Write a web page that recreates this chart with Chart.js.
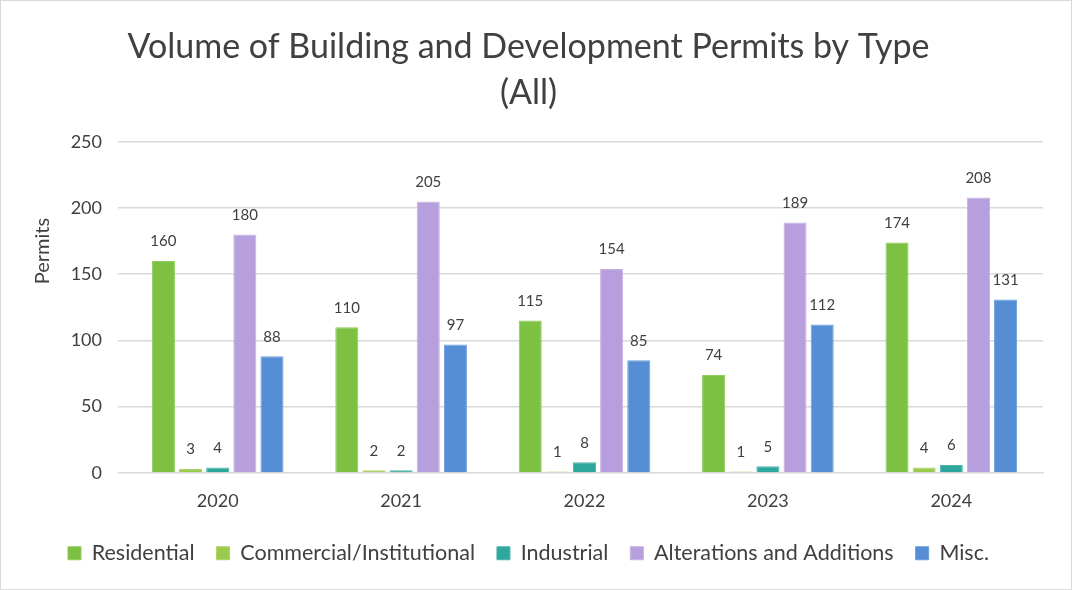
<!DOCTYPE html>
<html>
<head>
<meta charset="utf-8">
<script src="https://cdn.jsdelivr.net/npm/chart.js@4"></script>
<style>
  html, body { margin: 0; padding: 0; background: #ffffff; }
  #wrap { position: relative; width: 1070px; height: 588px; border: 1px solid #d9d9d9; }
</style>
</head>
<body>
<div id="wrap"><canvas id="permitChart"></canvas></div>
<script>
// Permits by year and type
const years = ['2020', '2021', '2022', '2023', '2024'];
const residential = [160, 110, 115, 74, 174];
const commercial = [3, 2, 1, 1, 4];
const industrial = [4, 2, 8, 5, 6];
const alterations = [180, 205, 154, 189, 208];
const misc = [88, 97, 85, 112, 131];
const yTicks = [0, 50, 100, 150, 200, 250];

const textColor = '#404040';
const fontFamily = 'Lato, "Open Sans", sans-serif';

// Draw the value above each bar, plus the y axis title (Excel puts it off-centre)
const valueLabels = {
    id: 'valueLabels',
    afterDatasetsDraw(chart) {
        const ctx = chart.ctx;
        ctx.save();
        ctx.fillStyle = textColor;
        ctx.font = '15px ' + fontFamily;
        ctx.textAlign = 'center';
        ctx.textBaseline = 'bottom';
        chart.data.datasets.forEach((ds, i) => {
            chart.getDatasetMeta(i).data.forEach((bar, j) => {
                ctx.fillText(ds.data[j], bar.x, bar.y - 12);
            });
        });
        ctx.font = '20px ' + fontFamily;
        ctx.textBaseline = 'middle';
        ctx.translate(42, 250);
        ctx.rotate(-Math.PI / 2);
        ctx.fillText('Permits', 0, 0);
        ctx.restore();
    }
};

const ctx = document.getElementById('permitChart').getContext('2d');
const permitChart = new Chart(ctx, {
    type: 'bar',
    data: {
        labels: years,
        datasets: [
            { label: 'Residential', data: residential, backgroundColor: '#7dc142', borderColor: '#8fcc5a' },
            { label: 'Commercial/Institutional', data: commercial, backgroundColor: '#9bcb4c', borderColor: '#acd466' },
            { label: 'Industrial', data: industrial, backgroundColor: '#2ea89c', borderColor: '#4bb5aa' },
            { label: 'Alterations and Additions', data: alterations, backgroundColor: '#b69fdc', borderColor: '#c5b2e3' },
            { label: 'Misc.', data: misc, backgroundColor: '#558ed5', borderColor: '#6a9cdb' }
        ].map(d => Object.assign(d, { borderWidth: 1, barPercentage: 0.85, categoryPercentage: 0.74 }))
    },
    options: {
        responsive: true,
        maintainAspectRatio: false,
        animation: false,
        layout: { padding: { left: 13, right: 28, top: 0, bottom: 15 } },
        plugins: {
            title: {
                display: true,
                text: ['Volume of Building and Development Permits by Type', '(All)'],
                color: textColor,
                font: { family: fontFamily, size: 34, weight: 'normal', lineHeight: 1.35 },
                padding: { top: 23, bottom: 26 }
            },
            legend: {
                display: true,
                position: 'bottom',
                labels: {
                    color: textColor,
                    font: { family: fontFamily, size: 21.5 },
                    boxWidth: 13,
                    boxHeight: 13,
                    padding: 22
                }
            },
            tooltip: { enabled: false }
        },
        scales: {
            x: {
                grid: { display: false },
                border: { color: '#d9d9d9' },
                ticks: { color: textColor, font: { family: fontFamily, size: 18 }, padding: 9 }
            },
            y: {
                min: 0,
                max: 250,
                afterBuildTicks(scale) {
                    scale.ticks = yTicks.map(v => ({ value: v }));
                },
                afterFit(scale) { scale.width = 112; },
                grid: { color: '#d9d9d9', lineWidth: 1.5 },
                border: { display: false },
                ticks: { color: textColor, font: { family: fontFamily, size: 18 }, padding: 16 }
            }
        }
    },
    plugins: [valueLabels]
});
</script>
</body>
</html>
